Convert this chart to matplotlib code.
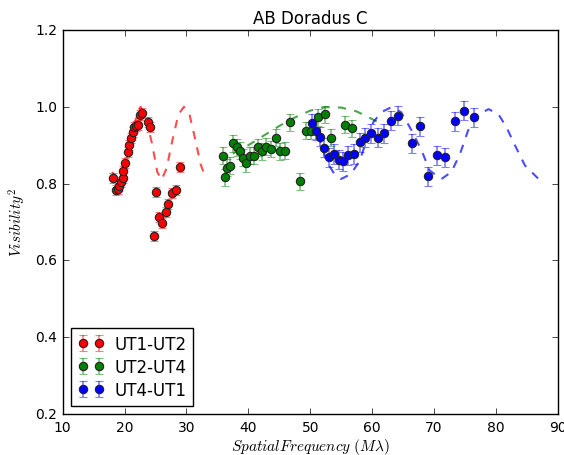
import matplotlib
matplotlib.use('Agg')
import numpy as np
import matplotlib.pyplot as plt

plt.style.use('classic')
plt.rcParams['mathtext.fontset'] = 'cm'

# UT1-UT2 data
x_ut12 = [18.2, 18.6, 18.9, 19.1, 19.4, 19.7, 19.8, 20.1, 20.5, 20.7, 21.0, 21.3, 21.5, 21.8,
          22.2, 22.5, 22.8, 23.8, 24.1, 24.7, 25.1, 25.6, 26.0, 26.7, 27.1, 27.6, 28.3, 28.9]
v_ut12 = [0.814, 0.783, 0.786, 0.793, 0.803, 0.815, 0.834, 0.854, 0.882, 0.900, 0.918, 0.934, 0.947, 0.951,
          0.953, 0.979, 0.983, 0.961, 0.947, 0.663, 0.777, 0.714, 0.697, 0.725, 0.746, 0.775, 0.783, 0.844]
e_ut12 = 0.013

# UT2-UT4 data
x_ut24 = [35.9, 36.2, 36.6, 37.1, 37.6, 38.2, 38.7, 39.2, 39.7, 40.3, 40.9, 41.5, 42.2, 42.9,
          43.6, 44.4, 45.1, 45.9, 46.7, 48.3, 49.4, 50.2, 51.3, 52.4, 53.4, 55.6, 56.8]
v_ut24 = [0.873, 0.816, 0.841, 0.847, 0.905, 0.895, 0.886, 0.867, 0.853, 0.873, 0.873, 0.894, 0.884, 0.896,
          0.890, 0.919, 0.884, 0.886, 0.960, 0.806, 0.938, 0.938, 0.973, 0.980, 0.919, 0.953, 0.944]
e_ut24 = 0.022

# UT4-UT1 data
x_ut41 = [50.3, 51.0, 51.6, 52.3, 53.0, 53.8, 54.6, 55.3, 56.1, 57.0, 58.0, 58.9, 59.9, 60.9,
          61.9, 63.0, 64.2, 66.5, 67.8, 69.1, 70.5, 71.7, 73.4, 74.9, 76.4]
v_ut41 = [0.957, 0.938, 0.922, 0.893, 0.868, 0.877, 0.862, 0.858, 0.874, 0.877, 0.908, 0.919, 0.931, 0.920,
          0.931, 0.964, 0.977, 0.905, 0.949, 0.819, 0.874, 0.868, 0.962, 0.990, 0.973]
e_ut41 = 0.025

# model curves
mx_ut12 = [18.0, 19.0, 20.0, 21.0, 22.0, 22.6, 23.5, 24.5, 25.3, 26.0, 26.8, 27.7, 28.7, 29.6,
           30.5, 31.5, 32.3, 33.0]
mv_ut12 = [0.83, 0.81, 0.84, 0.91, 0.98, 1.00, 0.97, 0.90, 0.83, 0.81, 0.84, 0.91, 0.98, 1.00,
           0.98, 0.91, 0.85, 0.82]
mx_ut24 = [37.5, 40.0, 42.5, 45.0, 47.5, 50.0, 52.5, 55.0, 57.5, 60.0, 61.0]
mv_ut24 = [0.878, 0.900, 0.925, 0.950, 0.972, 0.990, 0.999, 0.998, 0.988, 0.968, 0.960]
mx_ut41 = [50.0, 50.8, 51.8, 52.6, 53.7, 55.0, 56.6, 58.0, 59.1, 60.2, 61.5, 63.1, 64.7, 66.4,
           68.0, 69.3, 71.2, 72.8, 74.2, 75.5, 76.9, 78.8, 80.4, 81.7, 83.1, 84.7, 86.9]
mv_ut41 = [0.965, 0.942, 0.903, 0.860, 0.830, 0.812, 0.825, 0.860, 0.912, 0.960, 0.986, 0.999, 0.986, 0.938,
           0.886, 0.834, 0.812, 0.830, 0.877, 0.938, 0.977, 0.994, 0.981, 0.947, 0.899, 0.847, 0.812]

fig = plt.figure(figsize=(5.64, 4.56), dpi=100, facecolor='white')
ax = fig.add_axes([0.111, 0.090, 0.878, 0.842])
ax.set_facecolor('white')

ax.plot(mx_ut12, mv_ut12, '--', color='red', alpha=0.7, lw=1.5, dashes=(6, 6))
ax.plot(mx_ut24, mv_ut24, '--', color='green', alpha=0.7, lw=1.5, dashes=(6, 6))
ax.plot(mx_ut41, mv_ut41, '--', color='blue', alpha=0.7, lw=1.5, dashes=(6, 6))

for x, v, e, c, lab in [(x_ut12, v_ut12, e_ut12, 'red', 'UT1-UT2'),
                        (x_ut24, v_ut24, e_ut24, 'green', 'UT2-UT4'),
                        (x_ut41, v_ut41, e_ut41, 'blue', 'UT4-UT1')]:
    eb = ax.errorbar(x, v, yerr=e, fmt='o', color=c, ecolor=c, elinewidth=1.2, capsize=3,
                     markersize=6, markeredgecolor='#222222', markeredgewidth=0.8, label=lab)
    for art in eb[1] + eb[2]:
        art.set_alpha(0.5)

ax.set_xlim(10, 90)
ax.set_ylim(0.2, 1.2)
ax.set_title('AB Doradus C', fontsize=12)
ax.set_xlabel(r'$Spatial Frequency\ (M\lambda)$', fontsize=11, labelpad=2)
ax.set_ylabel(r'$Visibility^2$', fontsize=11)
ax.tick_params(labelsize=10)
ax.legend(loc='lower left', numpoints=2, fontsize=12, fancybox=False,
          handlelength=1.6, handletextpad=0.6, borderpad=0.4, labelspacing=0.3)

plt.savefig('out.png', dpi=100, facecolor='white')
